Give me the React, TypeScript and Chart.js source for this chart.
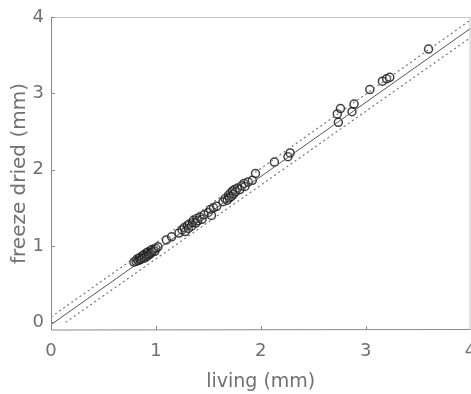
import React, { useEffect, useRef } from "react";
import { Chart, registerables } from "chart.js";

Chart.register(...registerables);

const livingValues = [
  0.79, 0.81, 0.82, 0.83, 0.84, 0.85, 0.86, 0.86, 0.87, 0.88, 0.89, 0.89, 0.90, 0.91, 0.91, 0.92,
  0.93, 0.93, 0.94, 0.95, 0.96, 0.96, 0.97, 0.98, 0.99, 1.00, 1.02,
  1.10, 1.15, 1.22, 1.25, 1.27, 1.28, 1.30, 1.31, 1.32, 1.34, 1.35, 1.36, 1.38, 1.39, 1.40, 1.42,
  1.44, 1.46, 1.50, 1.52, 1.53, 1.55, 1.58,
  1.64, 1.66, 1.68, 1.69, 1.70, 1.71, 1.72, 1.73, 1.74, 1.75, 1.76, 1.78, 1.80, 1.82, 1.84, 1.85,
  1.88, 1.92, 1.95,
  2.13, 2.26, 2.28, 2.73, 2.74, 2.76, 2.87, 2.89, 3.04, 3.16, 3.20, 3.23, 3.60,
];
const frozenValues = [
  0.79, 0.80, 0.83, 0.81, 0.84, 0.82, 0.86, 0.83, 0.85, 0.88, 0.84, 0.87, 0.90, 0.86, 0.89, 0.92,
  0.88, 0.91, 0.93, 0.90, 0.95, 0.92, 0.94, 0.96, 0.93, 0.97, 0.99,
  1.08, 1.12, 1.17, 1.21, 1.24, 1.19, 1.27, 1.23, 1.29, 1.26, 1.31, 1.34, 1.30, 1.36, 1.33, 1.38,
  1.35, 1.41, 1.44, 1.48, 1.40, 1.50, 1.52,
  1.58, 1.62, 1.60, 1.66, 1.63, 1.69, 1.65, 1.72, 1.68, 1.74, 1.71, 1.76, 1.74, 1.79, 1.82, 1.78,
  1.84, 1.86, 1.95,
  2.10, 2.17, 2.22, 2.73, 2.62, 2.80, 2.76, 2.86, 3.05, 3.16, 3.19, 3.21, 3.58,
];

const fitX = [0, 4];
const fitY = [-0.03, 3.85];
const upperX = [0, 4];
const upperY = [0.07, 3.96];
const lowerX = [0.14, 4];
const lowerY = [0, 3.73];

const xTicks = [0, 1, 2, 3, 4];
const yTicks = [0, 1, 2, 3, 4];

const FONT = "'DejaVu Sans', sans-serif";
const TEXT = "#707070";

const frame = {
  id: "frame",
  afterDraw(chart: any) {
    const { ctx, chartArea: a, scales } = chart;
    ctx.save();
    ctx.strokeStyle = "#c4c4c4";
    ctx.lineWidth = 1;
    ctx.beginPath();
    ctx.moveTo(a.left, a.top + 0.5);
    ctx.lineTo(a.right, a.top + 0.5);
    ctx.moveTo(a.right - 0.5, a.top);
    ctx.lineTo(a.right - 0.5, a.bottom);
    ctx.stroke();
    ctx.strokeStyle = "#8a8a8a";
    ctx.beginPath();
    ctx.moveTo(a.left + 0.5, a.top);
    ctx.lineTo(a.left + 0.5, a.bottom);
    ctx.lineTo(a.right, a.bottom - 0.5);
    ctx.stroke();
    ctx.beginPath();
    xTicks.forEach((v) => {
      const px = Math.round(scales.x.getPixelForValue(v)) + 0.5;
      ctx.moveTo(px, a.bottom);
      ctx.lineTo(px, a.bottom - 4);
    });
    yTicks.forEach((v) => {
      const py = Math.round(scales.y.getPixelForValue(v)) + 0.5;
      ctx.moveTo(a.left, py);
      ctx.lineTo(a.left + 4, py);
    });
    ctx.stroke();
    ctx.restore();
  },
};

export default function App() {
  const ref = useRef<HTMLCanvasElement>(null);
  useEffect(() => {
    document.body.style.margin = "0";
    const pts = livingValues.map((x, i) => ({ x, y: frozenValues[i] }));
    const line = (xs: number[], ys: number[]) => xs.map((x, i) => ({ x, y: ys[i] }));
    const chart = new Chart(ref.current!, {
      type: "scatter",
      data: {
        datasets: [
          {
            type: "line",
            data: line(fitX, fitY),
            borderColor: "#555",
            borderWidth: 1,
            pointRadius: 0,
          },
          {
            type: "line",
            data: line(upperX, upperY),
            borderColor: "#777",
            borderWidth: 1.2,
            borderDash: [2, 3],
            pointRadius: 0,
          },
          {
            type: "line",
            data: line(lowerX, lowerY),
            borderColor: "#777",
            borderWidth: 1.2,
            borderDash: [2, 3],
            pointRadius: 0,
          },
          {
            data: pts,
            pointStyle: "circle",
            pointRadius: 4,
            borderColor: "rgba(30,30,30,0.85)",
            backgroundColor: "rgba(255,255,255,0.15)",
            borderWidth: 1.5,
          },
        ],
      },
      options: {
        animation: false,
        responsive: false,
        events: [],
        layout: { padding: { top: 17, right: 0, left: 0, bottom: 0 } },
        plugins: { legend: { display: false }, tooltip: { enabled: false } },
        scales: {
          x: {
            type: "linear",
            min: 0,
            max: 4,
            border: { display: false },
            grid: { display: false, drawTicks: false },
            afterBuildTicks: (s: any) => {
              s.ticks = xTicks.map((v) => ({ value: v }));
            },
            afterFit: (s: any) => {
              s.height = 64;
              s.paddingRight = 0;
              s.paddingLeft = 0;
            },
            ticks: { color: TEXT, font: { family: FONT, size: 18 }, padding: 11 },
            title: {
              display: true,
              text: "living (mm)",
              color: TEXT,
              font: { family: FONT, size: 19 },
              padding: { top: 4, bottom: 1 },
            },
          },
          y: {
            type: "linear",
            min: -0.1,
            max: 4,
            border: { display: false },
            grid: { display: false, drawTicks: false },
            afterBuildTicks: (s: any) => {
              s.ticks = yTicks.map((v) => ({ value: v }));
            },
            afterFit: (s: any) => {
              s.width = 51;
              s.paddingTop = 0;
              s.paddingBottom = 0;
            },
            ticks: { color: TEXT, font: { family: FONT, size: 18 }, padding: 7 },
            title: {
              display: true,
              text: "freeze dried (mm)",
              color: TEXT,
              font: { family: FONT, size: 20 },
              padding: { top: 8, bottom: 0 },
            },
          },
        },
      },
      plugins: [frame],
    } as any);
    return () => chart.destroy();
  }, []);
  return (
    <div style={{ position: "absolute", left: 0, top: 0, width: 471, height: 394, background: "#fff", overflow: "hidden" }}>
      <canvas ref={ref} width={476} height={394} />
    </div>
  );
}
